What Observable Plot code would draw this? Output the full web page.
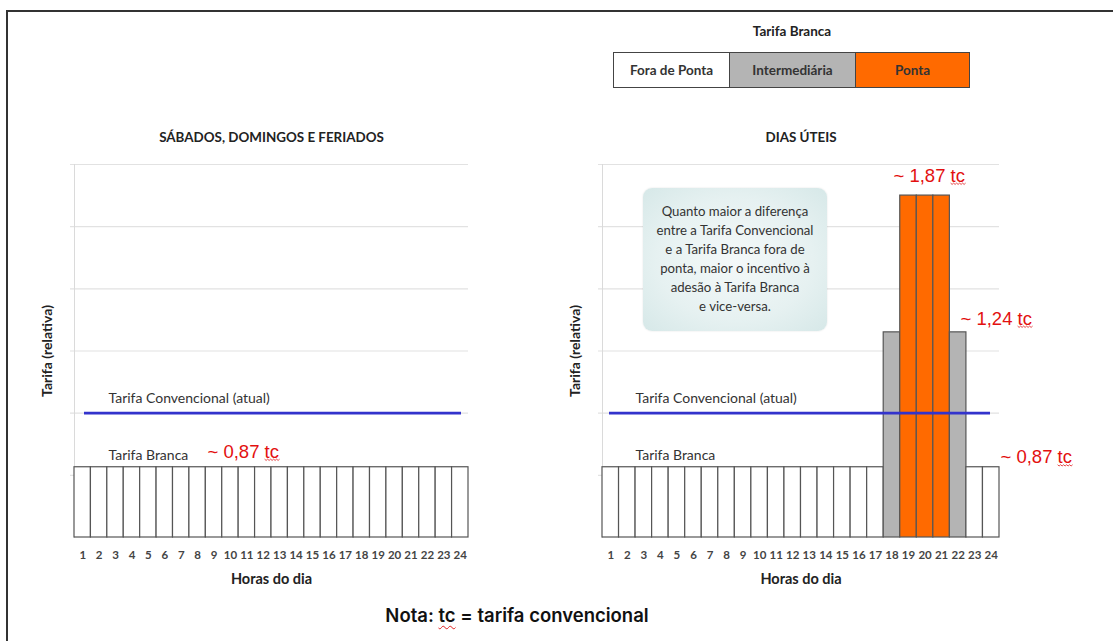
<!DOCTYPE html>
<html><head><meta charset="utf-8">
<script src="https://cdn.jsdelivr.net/npm/d3@7"></script>
<script src="https://cdn.jsdelivr.net/npm/@observablehq/plot@0.6"></script>
<style>
body{margin:0;background:#fff;}
#page{position:relative;width:1113px;height:641px;overflow:hidden;font-family:Lato,sans-serif;background:#fff;}
#border{position:absolute;left:6px;top:10px;width:1200px;height:700px;border-left:2px solid #333;border-top:2px solid #333;}
.panel{position:absolute;top:0;}
#legTitle{position:absolute;left:692px;top:23px;width:200px;text-align:center;font-weight:bold;font-size:13.5px;color:#222;}
#legend{position:absolute;left:613px;top:52px;height:34px;display:flex;border:1.5px solid #444;}
#legend div{height:34px;line-height:34px;text-align:center;font-weight:bold;font-size:13.5px;color:#333;box-sizing:border-box;}
#box{position:absolute;left:643px;top:188px;width:184px;height:143px;border-radius:9px;
 background:radial-gradient(ellipse at center,#f4f9f9 0%,#e6f1f1 60%,#d6e8e8 100%);
 box-shadow:0 0 2px rgba(0,0,0,0.12);z-index:5;font-size:13.2px;color:#333;text-align:center;line-height:19px;box-sizing:border-box;padding-top:14px;}
#note{position:absolute;left:267px;top:604px;width:500px;text-align:center;font-family:Inter,"Noto Sans",sans-serif;font-weight:600;font-size:18.5px;color:#111;}
.wavy{text-decoration:underline wavy #e02020;text-decoration-thickness:1px;text-underline-offset:3px;}
</style></head><body>
<div id="page">
  <div id="border"></div>
  <div id="legTitle">Tarifa Branca</div>
  <div id="legend"></div>
  <div id="left" class="panel" style="left:0px"></div>
  <div id="right" class="panel" style="left:540px"></div>
  <div id="box"></div>
  <div id="note">Nota: <span class="wavy">tc</span> = tarifa convencional</div>
</div>
<script>
// ---- data ----
const hours = [1,2,3,4,5,6,7,8,9,10,11,12,13,14,15,16,17,18,19,20,21,22,23,24];
const periods = ["Fora de Ponta","Intermediária","Ponta"];
const periodColors = ["#ffffff","#b4b4b4","#ff6a00"];
const legendWidths = [115,126,114];
const weekendPeriod = ["Fora de Ponta","Fora de Ponta","Fora de Ponta","Fora de Ponta","Fora de Ponta","Fora de Ponta","Fora de Ponta","Fora de Ponta","Fora de Ponta","Fora de Ponta","Fora de Ponta","Fora de Ponta","Fora de Ponta","Fora de Ponta","Fora de Ponta","Fora de Ponta","Fora de Ponta","Fora de Ponta","Fora de Ponta","Fora de Ponta","Fora de Ponta","Fora de Ponta","Fora de Ponta","Fora de Ponta"];
const weekdayPeriod = ["Fora de Ponta","Fora de Ponta","Fora de Ponta","Fora de Ponta","Fora de Ponta","Fora de Ponta","Fora de Ponta","Fora de Ponta","Fora de Ponta","Fora de Ponta","Fora de Ponta","Fora de Ponta","Fora de Ponta","Fora de Ponta","Fora de Ponta","Fora de Ponta","Fora de Ponta","Intermediária","Ponta","Ponta","Ponta","Intermediária","Fora de Ponta","Fora de Ponta"];
// drawn bar heights (relative units, as in the picture)
const weekendLevel = [1.13,1.13,1.13,1.13,1.13,1.13,1.13,1.13,1.13,1.13,1.13,1.13,1.13,1.13,1.13,1.13,1.13,1.13,1.13,1.13,1.13,1.13,1.13,1.13];
const weekdayLevel = [1.13,1.13,1.13,1.13,1.13,1.13,1.13,1.13,1.13,1.13,1.13,1.13,1.13,1.13,1.13,1.13,1.13,3.30,5.50,5.50,5.50,3.30,1.13,1.13];
const conventionalLevel = 2;
const gridLevels = [1,2,3,4,5,6];
const titles = ["SÁBADOS, DOMINGOS E FERIADOS","DIAS ÚTEIS"];
const yLabel = "Tarifa (relativa)";
const xLabel = "Horas do dia";
const convLabel = "Tarifa Convencional (atual)";
const brancaLabel = "Tarifa Branca";
const weekendNotes = ["~ 0,87 tc"];
const weekdayNotes = ["~ 1,87 tc","~ 1,24 tc","~ 0,87 tc"];
const boxLines = ["Quanto maior a diferença","entre a Tarifa Convencional","e a Tarifa Branca fora de","ponta, maior o incentivo à","adesão à Tarifa Branca","e vice-versa."];

// ---- legend & box ----
const leg = d3.select("#legend");
periods.forEach((p,i)=>{
  leg.append("div").style("width",legendWidths[i]+"px").style("background",periodColors[i])
    .style("border-left", i ? "1.5px solid #444" : null).text(p);
});
d3.select("#box").html(boxLines.join("<br>"));

const red = "#e31010";
function panel(level, period, extra, opts){
  const table = hours.map((h,i)=>({hour:h, level:level[i], period:period[i]}));
  const txt = {fontFamily:"Lato", fontSize:14, fill:"#333", textAnchor:"start", frameAnchor:"left"};
  const svg = Plot.plot({
    width: opts.width, height: 641,
    marginLeft: opts.ml, marginRight: opts.mr, marginTop: 164, marginBottom: 104,
    style:{background:"transparent", fontFamily:"Lato", overflow:"visible"},
    x:{type:"band", domain:hours, padding:0, round:false},
    y:{domain:[0,6], axis:null},
    color:{domain:periods, range:periodColors},
    marks:[
      Plot.ruleY(gridLevels, {stroke:"#e2e2e2", strokeWidth:1.2, insetLeft:-4}),
      Plot.frame({anchor:"left", stroke:"#dadada"}),
      Plot.barY(table, {x:"hour", y:"level", fill:"period", stroke:"#555", strokeWidth:1.2}),
      Plot.ruleY([conventionalLevel], {stroke:"#3333cc", strokeWidth:2.6, insetLeft:opts.bl, insetRight:opts.br}),
      Plot.axisX({tickSize:0, tickPadding:13, fontSize:11.5, fontWeight:"bold", fill:"#444", label:null}),
      Plot.text([xLabel], {frameAnchor:"bottom", dy:46, fontSize:14.5, fontWeight:"bold", fill:"#222"}),
      Plot.text([opts.title], {frameAnchor:"top", dy:-32, fontSize:13.4, fontWeight:"bold", fill:"#222"}),
      Plot.text([yLabel], {frameAnchor:"left", textAnchor:"middle", rotate:-90, dx:-27, fontSize:14, fontWeight:"bold", fill:"#222"}),
      Plot.text([convLabel], {...txt, y:[2.24], text:d=>d, dx:opts.tx}),
      Plot.text([brancaLabel], {...txt, y:[1.32], text:d=>d, dx:opts.tx}),
      ...extra
    ]
  });
  d3.select(svg).selectAll("text").each(function(){
    const t = this.textContent;
    if (/ tc$/.test(t) && this.childElementCount === 0) {
      const s = d3.select(this); s.text(null);
      s.append("tspan").text(t.slice(0,-2));
      s.append("tspan").attr("class","squig").text("tc");
    }
  });
  return svg;
}
// draw red squiggle under "tc" from the rendered text metrics
function squiggle(svg){
  d3.select(svg).selectAll("tspan.squig").each(function(){
    const text = this.parentNode;
    const b = this.getBBox();
    const y = b.y + b.height - 2.5;
    let d = `M${b.x},${y}`;
    for (let x = b.x, k = 0; x < b.x + b.width; x += 1.5, k++) d += `L${x + 1.5},${y + (k % 2 ? 0 : 1.3)}`;
    d3.select(text.parentNode).append("path").attr("d", d).attr("fill","none")
      .attr("stroke","#e02020").attr("stroke-width",0.8).attr("transform", text.getAttribute("transform"));
  });
}
const noteStyle = {frameAnchor:"left", textAnchor:"start", fill:red, fontSize:18.5, fontFamily:"Liberation Sans, Arial, sans-serif"};
const L = panel(weekendLevel, weekendPeriod, [
  Plot.text(weekendNotes, {...noteStyle, y:[1.38], dx:133})
], {width:540, ml:74, mr:72, bl:10, br:7, tx:34, title:titles[0]});
document.getElementById("left").append(L); squiggle(L);
const R = panel(weekdayLevel, weekdayPeriod, [
  Plot.text([weekdayNotes[0]], {...noteStyle, y:[5.82], dx:291}),
  Plot.text([weekdayNotes[1]], {...noteStyle, y:[3.52], dx:358}),
  Plot.text([weekdayNotes[2]], {...noteStyle, y:[1.29], dx:398})
], {width:573, ml:62, mr:114, bl:7, br:9, tx:33, title:titles[1]});
document.getElementById("right").append(R); squiggle(R);
</script>
</body></html>
